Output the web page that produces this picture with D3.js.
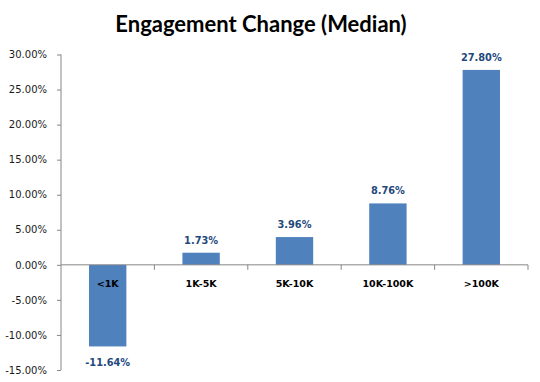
<!DOCTYPE html>
<html><head><meta charset="utf-8">
<script src="https://cdn.jsdelivr.net/npm/d3@7"></script>
<style>body{margin:0;background:#fff}svg{display:block}</style>
</head><body>
<script>
const categories = ["<1K","1K-5K","5K-10K","10K-100K",">100K"];
const values = [-11.64, 1.73, 3.96, 8.76, 27.80];
const yTicks = [-15,-10,-5,0,5,10,15,20,25,30];
const title = "Engagement Change (Median)";

const fmt = d => d.toFixed(2) + "%";
const W=540,H=382;
const svg=d3.select("body").append("svg").attr("width",W).attr("height",H);
const x=d3.scaleBand().domain(categories).range([61,528]).paddingInner(0.6).paddingOuter(0.3);
const xb=d3.scaleBand().domain(categories).range([61,528]);
const y=d3.scaleLinear().domain([-15,30]).range([370,54.5]);

svg.append("text").attr("x",261).attr("y",32).attr("text-anchor","middle")
  .attr("font-family","Lato").attr("font-weight","bold").attr("font-size",22)
  .attr("fill","#000").text(title);

// y axis
const ya=svg.append("g").attr("transform","translate(61,0)")
  .call(d3.axisLeft(y).tickValues(yTicks).tickSize(4).tickPadding(10).tickFormat(fmt));
ya.select(".domain").attr("stroke","#868686").attr("d","M0,"+y(-15)+"V"+y(30));
ya.selectAll(".tick line").attr("stroke","#868686");
ya.selectAll(".tick text").attr("font-family","DejaVu Sans").attr("font-size",10).attr("fill","#1a1a1a");

// bars
svg.selectAll("rect.bar").data(values).enter().append("rect")
  .attr("x",(d,i)=>x(categories[i])).attr("width",x.bandwidth())
  .attr("y",d=>y(Math.max(0,d))).attr("height",d=>Math.abs(y(d)-y(0)))
  .attr("fill","#4F81BD");

// x axis at zero
svg.append("line").attr("x1",61).attr("x2",528).attr("y1",y(0)).attr("y2",y(0)).attr("stroke","#868686");
const bounds=categories.map(c=>xb(c)+xb.bandwidth());
svg.selectAll("line.xt").data(bounds).enter().append("line")
  .attr("x1",d=>d).attr("x2",d=>d).attr("y1",y(0)).attr("y2",y(0)+5).attr("stroke","#868686");

// category labels
svg.selectAll("text.cat").data(categories).enter().append("text")
  .attr("x",d=>xb(d)+xb.bandwidth()/2).attr("y",y(0)+22).attr("text-anchor","middle")
  .attr("font-family","DejaVu Sans").attr("font-weight","bold").attr("font-size",9.5)
  .attr("fill","#000").text(d=>d);

// value labels
svg.selectAll("text.val").data(values).enter().append("text")
  .attr("x",(d,i)=>xb(categories[i])+xb.bandwidth()/2)
  .attr("y",d=>d>=0?y(d)-9:y(d)+20).attr("text-anchor","middle")
  .attr("font-family","DejaVu Sans").attr("font-weight","bold").attr("font-size",9.8)
  .attr("fill","#1F497D").text(fmt);
</script>
</body></html>
